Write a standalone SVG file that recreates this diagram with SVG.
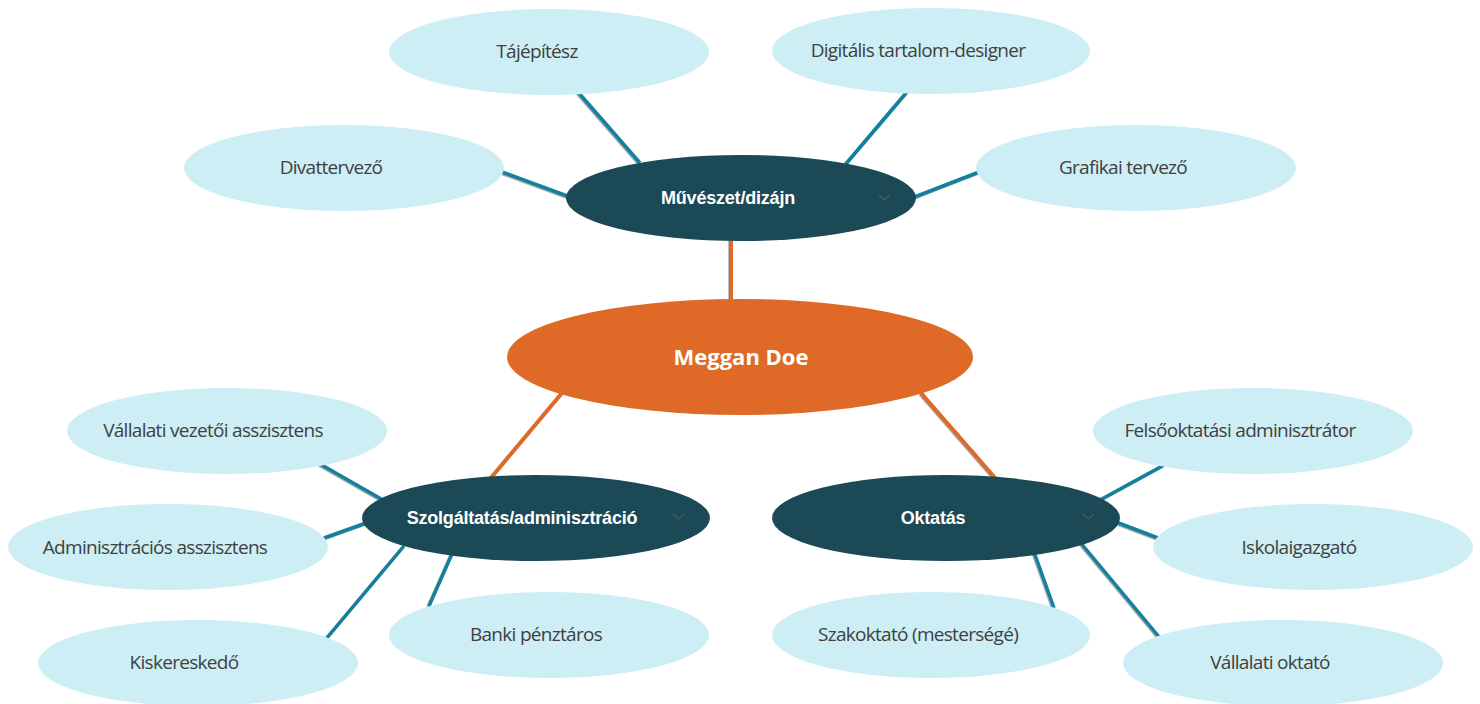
<svg xmlns="http://www.w3.org/2000/svg" width="1480" height="704" viewBox="0 0 1480 704">
<style>
.leaf ellipse{fill:#cdeef4}
.leaf text{font-family:"Open Sans","Liberation Sans",sans-serif;font-size:19px;fill:#404040;text-anchor:middle;letter-spacing:-0.7px}
.cat ellipse{fill:#1b4a56}
.cat text{font-family:"Liberation Sans",Arial,sans-serif;font-size:18px;font-weight:bold;fill:#ffffff;text-anchor:middle;letter-spacing:-0.2px}
.chev{fill:none;stroke:#4d5a5e;stroke-width:1.2}
.root ellipse{fill:#df6a27}
.root text{font-family:"Open Sans","Liberation Sans",sans-serif;font-size:22px;font-weight:bold;fill:#ffffff;text-anchor:middle}
.c{stroke:#12809f;stroke-width:3.5;stroke-linecap:butt}
.s{stroke:#a8a8a8;stroke-width:3.5}
.o{stroke:#df6a27;stroke-width:4}
</style>
<rect width="1480" height="704" fill="#ffffff"/>
<g id="connectors">
  <g transform="translate(-1,1)" class="shadow">
    <line class="s" x1="578" y1="92" x2="640" y2="163"/>
    <line class="s" x1="907" y1="92" x2="845" y2="165"/>
    <line class="s" x1="502" y1="172" x2="570" y2="197"/>
    <line class="s" x1="979" y1="172" x2="912" y2="198"/>
    <line class="s" x1="320" y1="464" x2="383" y2="500"/>
    <line class="s" x1="324" y1="538" x2="366" y2="523"/>
    <line class="s" x1="326" y1="639" x2="404" y2="546"/>
    <line class="s" x1="429" y1="606" x2="452" y2="554"/>
    <line class="s" x1="1164" y1="465" x2="1100" y2="500"/>
    <line class="s" x1="1158" y1="538" x2="1116" y2="522"/>
    <line class="s" x1="1160" y1="638" x2="1080" y2="542"/>
    <line class="s" x1="1054" y1="608" x2="1034" y2="552"/>
    <line class="s" x1="731" y1="238" x2="731" y2="303"/>
    <line class="s" x1="562" y1="393" x2="490" y2="479"/>
    <line class="s" x1="921" y1="393" x2="996" y2="479"/>
  </g>
  <line class="c" x1="578" y1="92" x2="640" y2="163"/>
  <line class="c" x1="907" y1="92" x2="845" y2="165"/>
  <line class="c" x1="502" y1="172" x2="570" y2="197"/>
  <line class="c" x1="979" y1="172" x2="912" y2="198"/>
  <line class="c" x1="320" y1="464" x2="383" y2="500"/>
  <line class="c" x1="324" y1="538" x2="366" y2="523"/>
  <line class="c" x1="326" y1="639" x2="404" y2="546"/>
  <line class="c" x1="429" y1="606" x2="452" y2="554"/>
  <line class="c" x1="1164" y1="465" x2="1100" y2="500"/>
  <line class="c" x1="1158" y1="538" x2="1116" y2="522"/>
  <line class="c" x1="1160" y1="638" x2="1080" y2="542"/>
  <line class="c" x1="1054" y1="608" x2="1034" y2="552"/>
  <line class="o" x1="731" y1="238" x2="731" y2="303"/>
  <line class="o" x1="562" y1="393" x2="490" y2="479"/>
  <line class="o" x1="921" y1="393" x2="996" y2="479"/>
</g>
<g id="root" class="root">
  <ellipse cx="740" cy="357" rx="233" ry="58"/>
  <text x="741" y="365">Meggan Doe</text>
</g>
<g id="cat-art" class="cat">
  <ellipse cx="741" cy="198" rx="175" ry="43"/>
  <text x="728" y="204">Művészet/dizájn</text>
  <path class="chev" d="M879,195 L884.5,200 L890,195"/>
</g>
<g id="cat-service" class="cat">
  <ellipse cx="536" cy="518" rx="174" ry="43"/>
  <text x="522" y="524">Szolgáltatás/adminisztráció</text>
  <path class="chev" d="M673,514 L678.5,519 L684,514"/>
</g>
<g id="cat-edu" class="cat">
  <ellipse cx="946" cy="518" rx="174" ry="43"/>
  <text x="933" y="524">Oktatás</text>
  <path class="chev" d="M1083,514 L1088.5,519 L1094,514"/>
</g>
<g id="leaf-tajepitesz" class="leaf">
  <ellipse cx="549" cy="52" rx="160" ry="43"/>
  <text x="537" y="58">Tájépítész</text>
</g>
<g id="leaf-digitalis" class="leaf">
  <ellipse cx="931" cy="51" rx="159" ry="43"/>
  <text x="918" y="57">Digitális tartalom-designer</text>
</g>
<g id="leaf-divat" class="leaf">
  <ellipse cx="344" cy="168" rx="160" ry="43"/>
  <text x="331" y="174">Divattervező</text>
</g>
<g id="leaf-grafikai" class="leaf">
  <ellipse cx="1136" cy="168" rx="160" ry="43"/>
  <text x="1123" y="174">Grafikai tervező</text>
</g>
<g id="leaf-vallalati-vez" class="leaf">
  <ellipse cx="227" cy="431" rx="160" ry="43"/>
  <text x="213" y="437">Vállalati vezetői asszisztens</text>
</g>
<g id="leaf-admin" class="leaf">
  <ellipse cx="168" cy="547" rx="160" ry="43"/>
  <text x="155" y="554">Adminisztrációs asszisztens</text>
</g>
<g id="leaf-kisker" class="leaf">
  <ellipse cx="198" cy="663" rx="160" ry="43"/>
  <text x="184" y="669">Kiskereskedő</text>
</g>
<g id="leaf-banki" class="leaf">
  <ellipse cx="549" cy="635" rx="160" ry="43"/>
  <text x="536" y="641">Banki pénztáros</text>
</g>
<g id="leaf-szakoktato" class="leaf">
  <ellipse cx="931" cy="635" rx="159" ry="43"/>
  <text x="918" y="641">Szakoktató (mesterségé)</text>
</g>
<g id="leaf-felso" class="leaf">
  <ellipse cx="1253" cy="431" rx="160" ry="43"/>
  <text x="1240" y="437">Felsőoktatási adminisztrátor</text>
</g>
<g id="leaf-iskola" class="leaf">
  <ellipse cx="1313" cy="547" rx="160" ry="43"/>
  <text x="1299" y="554">Iskolaigazgató</text>
</g>
<g id="leaf-vallalati-okt" class="leaf">
  <ellipse cx="1283" cy="663" rx="160" ry="43"/>
  <text x="1270" y="669">Vállalati oktató</text>
</g>
</svg>
